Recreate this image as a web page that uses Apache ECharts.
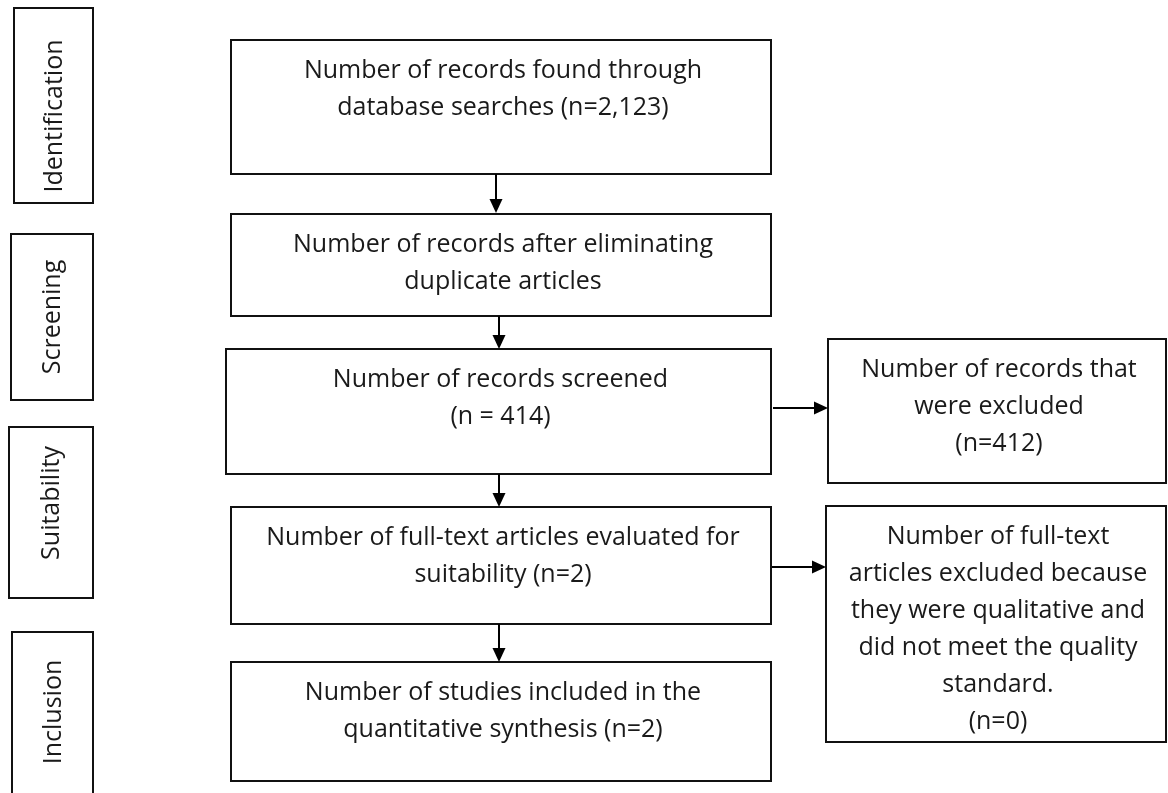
<!DOCTYPE html>
<html>
<head>
<meta charset="utf-8">
<script src="https://cdn.jsdelivr.net/npm/echarts@6/dist/echarts.min.js"></script>
<style>
  html, body { margin: 0; padding: 0; background: #fff; }
  #chart { width: 1168px; height: 793px; }
</style>
</head>
<body>
<div id="chart"></div>
<script>
// stage labels on the left
const stages = ['Identification', 'Screening', 'Suitability', 'Inclusion'];

// flow boxes text
const boxTexts = [
  'Number of records found through\ndatabase searches (n=2,123)',
  'Number of records after eliminating\nduplicate articles',
  'Number of records screened\n(n = 414)',
  'Number of records that\nwere excluded\n(n=412)',
  'Number of full-text articles evaluated for\nsuitability (n=2)',
  'Number of full-text\narticles excluded because\nthey were qualitative and\ndid not meet the quality\nstandard.\n(n=0)',
  'Number of studies included in the\nquantitative synthesis (n=2)'
];

// from box -> to box
const flows = [[0, 1], [1, 2], [2, 4], [4, 6], [2, 3], [4, 5]];

// layout (page units, y down) -- kept apart from the data
const stageRects = [[14, 8, 93, 203], [11, 234, 93, 400], [9, 427, 93, 598], [12, 632, 93, 820]];
const stageTextY = [116, 317, 503, 712];
const boxRects = [
  [231, 40, 771, 174],
  [231, 214, 771, 316],
  [226, 349, 771, 474],
  [828, 339, 1166, 483],
  [231, 507, 771, 624],
  [826, 506, 1166, 742],
  [231, 662, 771, 781]
];
const arrowPaths = [
  [496, 174, 496, 213],
  [499, 316, 499, 349],
  [499, 474, 499, 507],
  [499, 624, 499, 662],
  [773, 408, 828, 408],
  [772, 567, 826, 567]
];

const FONT = '25px "Open Sans", "Noto Sans", sans-serif';

let myChart = echarts.init(document.getElementById('chart'));

function rectOf(api, r) {
  const p1 = api.coord([r[0], r[1]]);
  const p2 = api.coord([r[2], r[3]]);
  return { x: p1[0], y: p1[1], width: p2[0] - p1[0], height: p2[1] - p1[1] };
}

myChart.setOption({
  animation: false,
  grid: { left: 0, right: 0, top: 0, bottom: 0 },
  xAxis: { type: 'value', min: 0, max: 1168, show: false },
  yAxis: { type: 'value', min: 0, max: 793, inverse: true, show: false },
  series: [
    {
      // stage labels
      type: 'custom',
      data: stages.map((s, i) => [i, 0]),
      renderItem: function (params, api) {
        const i = api.value(0);
        const r = rectOf(api, stageRects[i]);
        const c = api.coord([0, stageTextY[i]]);
        return {
          type: 'group',
          children: [
            { type: 'rect', shape: r, style: { fill: '#fff', stroke: '#111', lineWidth: 2 } },
            {
              type: 'text',
              x: r.x + r.width / 2 + 1,
              y: c[1],
              rotation: Math.PI / 2,
              style: {
                text: stages[i], x: 0, y: 0, align: 'center', verticalAlign: 'middle',
                font: FONT, fill: '#1a1a1a'
              }
            }
          ]
        };
      }
    },
    {
      // flow boxes
      type: 'custom',
      data: boxTexts.map((t, i) => [i, 0]),
      renderItem: function (params, api) {
        const i = api.value(0);
        const r = rectOf(api, boxRects[i]);
        return {
          type: 'group',
          children: [
            { type: 'rect', shape: r, style: { fill: '#fff', stroke: '#111', lineWidth: 2 } },
            {
              type: 'text',
              style: {
                text: boxTexts[i], x: r.x + r.width / 2 + 2, y: r.y + 12,
                align: 'center', verticalAlign: 'top', font: FONT,
                lineHeight: 37, fill: '#1a1a1a'
              }
            }
          ]
        };
      }
    },
    {
      // arrows
      type: 'custom',
      data: flows.map((f, i) => [i, 0]),
      renderItem: function (params, api) {
        const i = api.value(0);
        const a = arrowPaths[i];
        const p1 = api.coord([a[0], a[1]]);
        const p2 = api.coord([a[2], a[3]]);
        const dx = p2[0] - p1[0], dy = p2[1] - p1[1];
        const len = Math.sqrt(dx * dx + dy * dy);
        const ux = dx / len, uy = dy / len;
        const hl = 14, hw = 6.5;
        const bx = p2[0] - ux * hl, by = p2[1] - uy * hl;
        return {
          type: 'group',
          children: [
            { type: 'line', shape: { x1: p1[0], y1: p1[1], x2: bx, y2: by }, style: { stroke: '#000', lineWidth: 2 } },
            {
              type: 'polygon',
              shape: { points: [[p2[0], p2[1]], [bx - uy * hw, by + ux * hw], [bx + uy * hw, by - ux * hw]] },
              style: { fill: '#000' }
            }
          ]
        };
      }
    }
  ]
});
</script>
</body>
</html>
